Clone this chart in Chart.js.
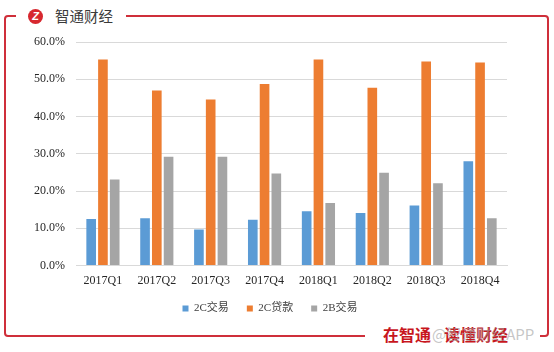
<!DOCTYPE html>
<html>
<head>
<meta charset="utf-8">
<script src="https://cdn.jsdelivr.net/npm/chart.js@4/dist/chart.umd.min.js"></script>
<style>
  html, body { margin: 0; padding: 0; background: #fff; }
  #wrap { position: relative; width: 554px; height: 352px; overflow: hidden; }
  #chart { position: absolute; left: 0; top: 0; }
  .frame { position: absolute; left: 4px; top: 15px; width: 541px; height: 318px;
           border: 2px solid #cf2f3a; border-radius: 4px; }
  .logoGap { position: absolute; left: 16px; top: 4px; width: 110px; height: 24px; background: #fff; }
  .logo { position: absolute; left: 28px; top: 9px; width: 15px; height: 15px; border-radius: 50%;
          background: #d7282f; color: #fff; font: bold italic 11px "Liberation Sans", sans-serif;
          text-align: center; line-height: 15px; }
  .brand { position: absolute; left: 55px; top: 6px; font: 14.5px "Noto Sans CJK SC", sans-serif;
           color: #3a3a3a; line-height: 20px; }
  .footGap { position: absolute; left: 365px; top: 322px; width: 175px; height: 28px; background: #fff; }
  .slogan { position: absolute; top: 324px; font: bold 16px "Noto Sans CJK SC", sans-serif;
            color: #c8161d; line-height: 20px; }
  .mark { position: absolute; left: 432px; top: 324px; font: 15px "Noto Sans CJK SC", sans-serif;
          color: rgba(160,160,160,0.6); line-height: 20px; }
</style>
</head>
<body>
<div id="wrap">
  <div class="frame"></div>
  <div class="logoGap"></div>
  <div class="logo">Z</div>
  <div class="brand">智通财经</div>
  <div class="footGap"></div>
  <div class="slogan" style="left:383px">在智通</div>
  <div class="slogan" style="left:444px">读懂财经</div>
  <div class="mark">@智通财经APP</div>
  <canvas id="chart" width="554" height="352"></canvas>
</div>
<script>
const categories = ['2017Q1', '2017Q2', '2017Q3', '2017Q4', '2018Q1', '2018Q2', '2018Q3', '2018Q4'];
const seriesNames = ['2C交易', '2C贷款', '2B交易'];
const c2cTrade = [12.5, 12.7, 9.7, 12.3, 14.6, 14.1, 16.1, 28.0];
const c2cLoan = [55.3, 47.0, 44.6, 48.7, 55.3, 47.7, 54.8, 54.5];
const b2bTrade = [23.1, 29.2, 29.2, 24.7, 16.8, 24.9, 22.1, 12.7];
const yTicks = [0, 10, 20, 30, 40, 50, 60];

const serif = '"Liberation Serif", "Times New Roman", "Noto Sans CJK SC", serif';
const colors = ['#5b9bd5', '#ed7d31', '#a5a5a5'];

const makeSet = (label, data, color) => ({
    label: label,
    data: data,
    backgroundColor: color,
    barPercentage: 0.82,
    categoryPercentage: 0.655
});

new Chart(document.getElementById('chart').getContext('2d'), {
    type: 'bar',
    data: {
        labels: categories,
        datasets: [
            makeSet(seriesNames[0], c2cTrade, colors[0]),
            makeSet(seriesNames[1], c2cLoan, colors[1]),
            makeSet(seriesNames[2], b2bTrade, colors[2])
        ]
    },
    options: {
        responsive: false,
        animation: false,
        layout: { padding: { left: 33, right: 47, top: 42, bottom: 28 } },
        plugins: {
            tooltip: { enabled: false },
            legend: {
                position: 'bottom',
                labels: {
                    boxWidth: 6,
                    boxHeight: 6,
                    padding: 7,
                    color: '#404040',
                    font: { family: serif, size: 11 },
                    // wider gap between legend entries, like the original
                    generateLabels: (chart) => Chart.defaults.plugins.legend.labels.generateLabels(chart)
                        .map((item, i, all) => ({ ...item, text: i < all.length - 1 ? item.text + '    ' : item.text }))
                }
            }
        },
        scales: {
            x: {
                grid: { display: false, drawTicks: false },
                border: { color: '#d9d9d9' },
                ticks: { color: '#262626', padding: 8, font: { family: serif, size: 12 } }
            },
            y: {
                min: yTicks[0],
                max: yTicks[yTicks.length - 1],
                afterFit: (scale) => { scale.width = 43; },
                afterBuildTicks: (scale) => { scale.ticks = yTicks.map(v => ({ value: v })); },
                grid: { color: '#d9d9d9', drawTicks: false },
                border: { display: false },
                ticks: {
                    color: '#262626',
                    padding: 11,
                    font: { family: serif, size: 12 },
                    callback: (v) => v.toFixed(1) + '%'
                }
            }
        }
    }
});
</script>
</body>
</html>
